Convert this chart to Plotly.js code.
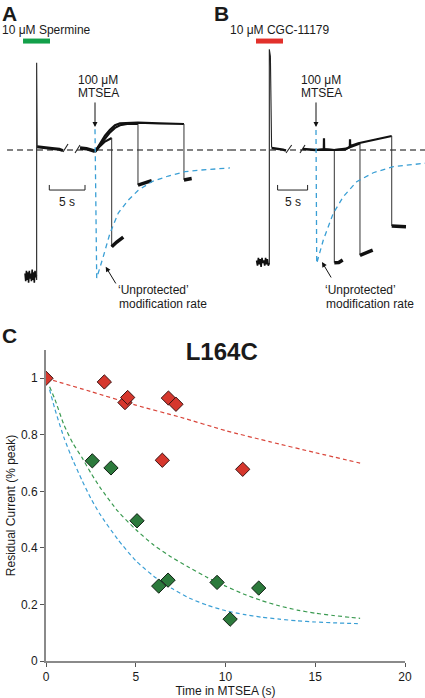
<!DOCTYPE html>
<html>
<head>
<meta charset="utf-8">
<script src="https://cdn.plot.ly/plotly-3.0.1.min.js"></script>
<style>html,body{margin:0;padding:0;background:#fff;}#chart{width:425px;height:698px;}</style>
</head>
<body>
<div id="chart"></div>
<script>
// ---------------- Panel C data (time in MTSEA, residual current) ----------------
const redT   = [0, 3.25, 4.40, 4.55, 6.82, 7.24, 6.48, 10.96];
const redY   = [1.0, 0.987, 0.914, 0.932, 0.930, 0.908, 0.710, 0.678];
const greenT = [2.58, 3.62, 5.07, 6.28, 6.80, 9.53, 11.85, 10.26];
const greenY = [0.708, 0.683, 0.496, 0.265, 0.286, 0.278, 0.258, 0.148];
const redFitT   = [0, 2.5, 5, 7.5, 10, 12.5, 15, 17.5];
const redFitY   = [1.0, 0.953, 0.905, 0.862, 0.815, 0.775, 0.737, 0.70];
const greenFitT = [0.2, 0.5, 1, 1.5, 2, 2.5, 3, 4, 5, 6, 7, 8, 9, 10, 11, 12, 13, 14, 15, 16, 17, 17.5];
const greenFitY = [0.97, 0.925, 0.835, 0.77, 0.72, 0.665, 0.615, 0.53, 0.465, 0.41, 0.367, 0.33, 0.295, 0.265, 0.237, 0.214, 0.195, 0.18, 0.169, 0.161, 0.154, 0.151];
const blueFitT  = [0.2, 0.5, 1, 1.5, 2, 2.5, 3, 4, 5, 6, 7, 8, 9, 10, 11, 12, 13, 14, 15, 16, 17, 17.5];
const blueFitY  = [0.96, 0.89, 0.79, 0.71, 0.64, 0.575, 0.52, 0.43, 0.355, 0.30, 0.257, 0.222, 0.197, 0.178, 0.165, 0.155, 0.148, 0.142, 0.138, 0.135, 0.133, 0.132];
const xTicks = [0, 5, 10, 15, 20];
const yTicks = [0, 0.2, 0.4, 0.6, 0.8, 1];
const yTickText = ['0', '0.2', '0.4', '0.6', '0.8', '1'];

// ---------------- Panel A traces (time s, current normalised; 0 = dashed baseline) ----------------
const A_baseT = [-12.32, 18.9];
const A_baseI = [0, 0];
const A_drugT = [-10.08, -6.30];
const A_drugI = [0.838, 0.838];
const A_noiseT = [-9.8, -9.7, -9.6, -9.5, -9.4, -9.3, -9.2, -9.1, -9.0, -8.9, -8.8, -8.7, -8.6, -8.5, -8.4, -8.3, -8.2];
const A_noiseI = [-0.95, -1.01, -0.93, -1.0, -0.94, -1.02, -0.93, -0.99, -0.95, -1.01, -0.92, -1.0, -0.94, -1.02, -0.93, -0.98, -0.96];
const A_spikeT = [-8.2, -8.17, -8.17, -8.1];
const A_spikeI = [-0.96, -1.0, 0.672, 0.025];
const A_plat1T = [-8.1, -7, -6, -5, -4.48];
const A_plat1I = [0.025, 0.02, 0.012, 0.005, -0.005];
const A_slashT = [-4.48, -3.78, null, -2.80, -2.10];
const A_slashI = [-0.015, 0.046, null, -0.023, 0.038];
const A_plat2T = [-2.1, -1.2, 0];
const A_plat2I = [0.015, 0.01, -0.01];
const A_sw1T = [0, 0.7, 1.4, 2.34];
const A_sw1I = [-0.015, 0.03, 0.065, 0.092];
const A_sw1TailT = [2.34, 3.0, 3.96];
const A_sw1TailI = [-0.744, -0.71, -0.67];
const A_sw2T = [0, 0.7, 1.4, 2.1, 2.8, 3.5, 4.5, 6.02];
const A_sw2I = [-0.01, 0.04, 0.09, 0.135, 0.17, 0.19, 0.2, 0.2];
const A_sw2TailT = [6.02, 7.0, 7.94];
const A_sw2TailI = [-0.27, -0.25, -0.235];
const A_sw3T = [0, 0.7, 1.4, 2.1, 2.8, 3.5, 6, 9, 12.46];
const A_sw3I = [-0.015, 0.05, 0.11, 0.155, 0.19, 0.205, 0.21, 0.205, 0.2];
const A_sw3TailT = [12.46, 13.54];
const A_sw3TailI = [-0.23, -0.22];
const A_blueT = [0, 0.12, 0.24, 1.16, 2.10, 3.26, 4.66, 6.06, 7.94, 10.27, 12.61, 14.94, 17.97, 18.9];
const A_blueI = [0.16, -0.4, -0.985, -0.82, -0.64, -0.485, -0.385, -0.31, -0.244, -0.20, -0.167, -0.154, -0.141, -0.138];

// ---------------- Panel B traces ----------------
const B_baseT = [-14.33, 18.17];
const B_baseI = [0, 0];
const B_drugT = [-10.0, -5.5];
const B_drugI = [0.838, 0.838];
const B_noiseT = [-9.9, -9.75, -9.6, -9.45, -9.3, -9.15, -9.0, -8.85, -8.7, -8.55, -8.4, -8.25, -8.1, -7.95, -7.8];
const B_noiseI = [-0.85, -0.89, -0.83, -0.88, -0.84, -0.9, -0.83, -0.87, -0.85, -0.89, -0.83, -0.88, -0.84, -0.89, -0.87];
const B_spikeT = [-7.8, -7.78, -7.78, -7.6, -7.4];
const B_spikeI = [-0.87, -0.88, 0.775, 0.72, 0.02];
const B_plat1T = [-7.4, -6.5, -5.5, -5.0];
const B_plat1I = [0.015, 0.01, 0.003, -0.005];
const B_slashT = [-5.0, -4.05, null, -2.67, -1.83];
const B_slashI = [-0.023, 0.038, null, -0.023, 0.038];
const B_plat2T = [-2.2, -1, 0];
const B_plat2I = [0.008, 0.005, 0.0];
const B_sw1T = [0, 1.5, 3.05];
const B_sw1I = [0, 0.005, 0.0];
const B_sw1TailT = [3.05, 3.8, 4.45];
const B_sw1TailI = [-0.867, -0.865, -0.846];
const B_sw2T = [0, 3, 5, 7.33];
const B_sw2I = [0, 0.0, 0.01, 0.05];
const B_sw2TailT = [7.33, 8.4, 9.45];
const B_sw2TailI = [-0.81, -0.79, -0.77];
const B_sw3T = [0, 1.3, 1.33, 1.36, 3, 4.83, 5.64, 5.67, 5.7, 7.05, 10, 12.62];
const B_sw3I = [0, 0.005, 0.09, 0.005, 0.0, 0.003, 0.025, 0.082, 0.03, 0.052, 0.08, 0.108];
const B_sw3TailT = [12.62, 15.0];
const B_sw3TailI = [-0.585, -0.59];
const B_blueT = [0, 0.06, 0.12, 1.22, 2.88, 4.55, 6.78, 9.55, 12.88, 18.17];
const B_blueI = [0.154, -0.4, -0.872, -0.692, -0.487, -0.359, -0.244, -0.175, -0.128, -0.102];

// scale bars (5 s)
const scaleT = [-6.4, -6.4, -1.4, -1.4];
const scaleI = [-0.269, -0.308, -0.308, -0.269];

// ---------------- build ----------------
const FONT = 'Liberation Sans, Arial, Helvetica, sans-serif';
const traces = [];
function ln(x, y, xa, color, width, dash, shape) {
  traces.push({x: x, y: y, xaxis: xa, yaxis: 'y2', type: 'scatter', mode: 'lines',
    line: {color: color, width: width, dash: dash || 'solid', shape: shape || 'linear'},
    hoverinfo: 'skip', connectgaps: false});
}
function sweep(xa, t, I, tt, ti) {
  ln(t, I, xa, '#111', 2.2);
  ln([t[t.length - 1], tt[0]], [I[I.length - 1], ti[0]], xa, '#333', 1);
  ln(tt, ti, xa, '#111', 3.5);
}
// Panel A
ln(A_baseT, A_baseI, 'x2', '#5a5a5a', 1.5, '6px,4px');
ln(A_drugT, A_drugI, 'x2', '#13a04a', 5);
ln(A_noiseT, A_noiseI, 'x2', '#111', 1.6);
ln(A_spikeT, A_spikeI, 'x2', '#222', 1.1);
ln(A_plat1T, A_plat1I, 'x2', '#111', 3);
ln(A_slashT, A_slashI, 'x2', '#222', 1.1);
ln(A_plat2T, A_plat2I, 'x2', '#111', 3.5);
sweep('x2', A_sw1T, A_sw1I, A_sw1TailT, A_sw1TailI);
sweep('x2', A_sw2T, A_sw2I, A_sw2TailT, A_sw2TailI);
sweep('x2', A_sw3T, A_sw3I, A_sw3TailT, A_sw3TailI);
ln(A_blueT, A_blueI, 'x2', '#3a9fd5', 1.3, '5px,4px');
ln(scaleT, scaleI, 'x2', '#222', 1);
// Panel B
ln(B_baseT, B_baseI, 'x3', '#5a5a5a', 1.5, '6px,4px');
ln(B_drugT, B_drugI, 'x3', '#e2302b', 5);
ln(B_noiseT, B_noiseI, 'x3', '#111', 1.6);
ln(B_spikeT, B_spikeI, 'x3', '#222', 1.1);
ln(B_plat1T, B_plat1I, 'x3', '#111', 2.5);
ln(B_slashT, B_slashI, 'x3', '#222', 1.1);
ln(B_plat2T, B_plat2I, 'x3', '#111', 2.5);
sweep('x3', B_sw1T, B_sw1I, B_sw1TailT, B_sw1TailI);
sweep('x3', B_sw2T, B_sw2I, B_sw2TailT, B_sw2TailI);
sweep('x3', B_sw3T, B_sw3I, B_sw3TailT, B_sw3TailI);
ln(B_blueT, B_blueI, 'x3', '#3a9fd5', 1.3, '5px,4px');
ln(scaleT, scaleI, 'x3', '#222', 1);

// Panel C
function cl(x, y, color) {
  traces.push({x: x, y: y, xaxis: 'x', yaxis: 'y', type: 'scatter', mode: 'lines',
    line: {color: color, width: 1.2, dash: '4px,3px', shape: 'spline', smoothing: 0.6}, hoverinfo: 'skip'});
}
cl(redFitT, redFitY, '#d9453a');
cl(greenFitT, greenFitY, '#3a9a50');
cl(blueFitT, blueFitY, '#3a9fd5');
traces.push({x: redT, y: redY, xaxis: 'x', yaxis: 'y', type: 'scatter', mode: 'markers',
  marker: {symbol: 'diamond', size: 11, color: '#d6372d', line: {color: '#3a1212', width: 1}}});
traces.push({x: greenT, y: greenY, xaxis: 'x', yaxis: 'y', type: 'scatter', mode: 'markers',
  marker: {symbol: 'diamond', size: 11, color: '#2c7a3c', line: {color: '#0f1f12', width: 1}}});

function pa(text, px, py, size, opts) {
  return Object.assign({text: text, xref: 'paper', yref: 'paper', x: px / 425, y: 1 - py / 698,
    showarrow: false, xanchor: 'center', yanchor: 'middle',
    font: {family: FONT, size: size, color: '#1a1a1a'}}, opts || {});
}
function arrow(xa, t, I, at, aI) {
  return {text: '', xref: xa, yref: 'y2', x: t, y: I, axref: xa, ayref: 'y2', ax: at, ay: aI,
    showarrow: true, arrowhead: 2, arrowsize: 1, arrowwidth: 1, arrowcolor: '#111', standoff: 0, startstandoff: 0};
}
const annotations = [
  pa('<b>A</b>', 0, 0, 21, {xanchor: 'left', yanchor: 'top'}),
  pa('<b>B</b>', 212, 0, 21, {xanchor: 'left', yanchor: 'top'}),
  pa('<b>C</b>', 0, 335.5, 21, {xanchor: 'left'}),
  pa('10 μM Spermine', 0, 30, 12, {xanchor: 'left'}),
  pa('10 μM CGC-11179', 228, 30, 12, {xanchor: 'left'}),
  pa('100 μM', 98, 80, 12),
  pa('MTSEA', 98, 93, 12),
  pa('100 μM', 321, 80, 12),
  pa('MTSEA', 321, 93, 12),
  pa('‘Unprotected’', 116, 290, 12, {xanchor: 'left'}),
  pa('modification rate', 117, 304, 12, {xanchor: 'left'}),
  pa('‘Unprotected’', 323, 290, 12, {xanchor: 'left'}),
  pa('modification rate', 324, 304, 12, {xanchor: 'left'}),
  {text: '5 s', xref: 'x2', yref: 'y2', x: -3.9, y: -0.40, showarrow: false, font: {family: FONT, size: 12, color: '#1a1a1a'}},
  {text: '5 s', xref: 'x3', yref: 'y2', x: -3.9, y: -0.40, showarrow: false, font: {family: FONT, size: 12, color: '#1a1a1a'}},
  arrow('x2', 0, 0.177, 0, 0.377),
  arrow('x3', 0, 0.177, 0, 0.377),
  arrow('x2', 1.5, -0.898, 3.04, -1.038),
  arrow('x3', 1.0, -0.862, 2.67, -0.992)
];

const layout = {
  width: 425, height: 698,
  margin: {l: 0, r: 0, t: 0, b: 0},
  paper_bgcolor: '#ffffff', plot_bgcolor: 'rgba(0,0,0,0)',
  showlegend: false,
  font: {family: FONT, size: 12, color: '#1a1a1a'},
  title: {text: 'L164C', font: {family: FONT, size: 24, weight: 'bold', color: '#1a1a1a'},
    xref: 'paper', yref: 'paper', x: 221.7 / 425, y: 1 - 351.7 / 698, xanchor: 'center', yanchor: 'middle'},
  xaxis: {domain: [46 / 425, 405 / 425], range: [0, 20], anchor: 'y',
    showline: true, linecolor: '#8a8a8a', linewidth: 2, ticks: 'outside', ticklen: 4, tickcolor: '#555', tickwidth: 1,
    tickvals: xTicks, showgrid: false, zeroline: false, fixedrange: true,
    tickfont: {family: FONT, size: 12, color: '#1a1a1a'},
    title: {text: 'Time in MTSEA (s)', font: {family: FONT, size: 12, color: '#1a1a1a'}, standoff: 2}},
  yaxis: {domain: [1 - 661 / 698, 1 - 350 / 698], range: [0, 1.1], anchor: 'x',
    showline: true, linecolor: '#8a8a8a', linewidth: 2, ticks: 'outside', ticklen: 4, tickcolor: '#555', tickwidth: 1,
    tickvals: yTicks, ticktext: yTickText, showgrid: false, zeroline: false, fixedrange: true,
    tickfont: {family: FONT, size: 12, color: '#1a1a1a'},
    title: {text: 'Residual Current (% peak)', font: {family: FONT, size: 12, color: '#1a1a1a'}, standoff: 3}},
  xaxis2: {domain: [0, 230 / 425], range: [-13.305, 18.908], anchor: 'y2', visible: false, fixedrange: true},
  xaxis3: {domain: [230 / 425, 1], range: [-14.333, 18.167], anchor: 'y2', visible: false, fixedrange: true},
  yaxis2: {domain: [1 - 310 / 698, 1], range: [-1.2308, 1.1538], anchor: 'x2', visible: false, fixedrange: true},
  annotations: annotations
};

Plotly.newPlot('chart', traces, layout, {displayModeBar: false, staticPlot: true});
</script>
</body>
</html>
